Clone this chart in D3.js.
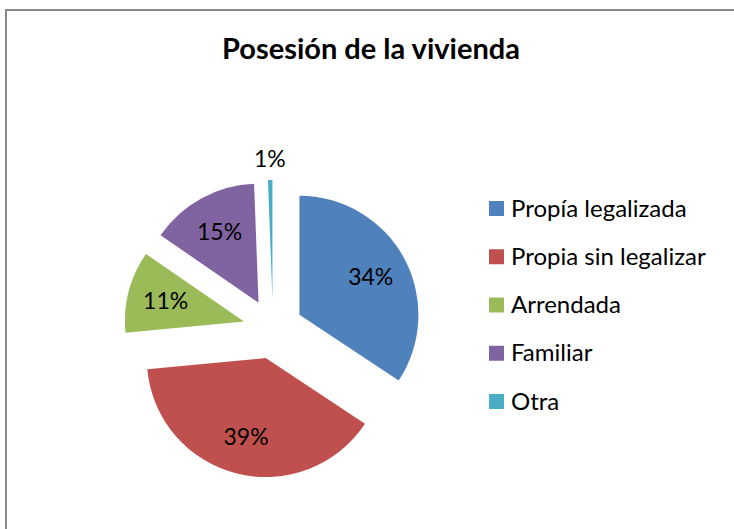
<!DOCTYPE html>
<html>
<head>
<meta charset="utf-8">
<script src="https://cdn.jsdelivr.net/npm/d3@7"></script>
<style>
  body { margin: 0; background: #fff; overflow: hidden; }
  text { font-family: Lato, "Open Sans", sans-serif; fill: #000; }
</style>
</head>
<body>
<div id="vis"></div>
<script>
// data (labels are the rounded shares)
var categories = ["Propía legalizada", "Propia sin legalizar", "Arrendada", "Familiar", "Otra"];
var shares = [34.3, 39.2, 11.1, 14.8, 0.6];
var colors = ["#4F81BD", "#C0504D", "#9BBB59", "#8064A2", "#4BACC6"];

var outer_width = 734;
var outer_height = 529;

var svg = d3.select("#vis")
  .append("svg")
  .attr("width", outer_width)
  .attr("height", outer_height)
  .style("display", "block");

// chart frame (only top and left edges are inside the picture)
svg.append("rect")
  .attr("x", 6)
  .attr("y", 10)
  .attr("width", 800)
  .attr("height", 600)
  .style("fill", "none")
  .style("stroke", "#898989")
  .style("stroke-width", 2);

svg.append("text")
  .attr("x", 371)
  .attr("y", 59)
  .style("text-anchor", "middle")
  .style("font-weight", "bold")
  .style("font-size", "29px")
  .text("Posesión de la vivienda");

var radius = 119;
var explode = 30;
var cx = 273, cy = 329;

var myColor = d3.scaleOrdinal()
  .domain(categories)
  .range(colors);

var pie = d3.pie()
  .sort(null)
  .value(function(d){ return d.value; });

var arc = d3.arc()
  .innerRadius(0)
  .outerRadius(radius);

var table = categories.map(function(c, i){
  return {name: c, value: shares[i]};
});

var slices = pie(table);

var pieG = svg.append("g")
  .attr("transform", "translate(" + cx + "," + cy + ")");

function offset(d, dist){
  var a = (d.startAngle + d.endAngle) / 2;
  return [Math.sin(a) * dist, -Math.cos(a) * dist];
}

var slice = pieG.selectAll(".slice")
  .data(slices)
  .enter()
  .append("g")
  .attr("class", "slice")
  .attr("transform", function(d){
    var o = offset(d, explode);
    return "translate(" + o[0] + "," + o[1] + ")";
  });

slice.append("path")
  .attr("d", arc)
  .style("fill", function(d){ return myColor(d.data.name); });

var pct = d3.format(".0%");

slice.append("text")
  .attr("transform", function(d){
    var dist = d.data.value < 5 ? radius + 21 : radius * 0.68;
    var o = offset(d, dist);
    return "translate(" + o[0] + "," + o[1] + ")";
  })
  .attr("dy", "0.36em")
  .style("text-anchor", "middle")
  .style("font-size", "23px")
  .text(function(d){ return pct(d.data.value / 100); });

// legend
var legendY = d3.scalePoint()
  .domain(categories)
  .range([208, 401]);

var legend = svg.selectAll(".legend")
  .data(categories)
  .enter()
  .append("g")
  .attr("class", "legend")
  .attr("transform", function(d){ return "translate(489," + legendY(d) + ")"; });

legend.append("rect")
  .attr("x", 0)
  .attr("y", -7)
  .attr("width", 15)
  .attr("height", 15)
  .style("fill", function(d){ return myColor(d); });

legend.append("text")
  .attr("x", 22)
  .attr("dy", "0.36em")
  .style("font-size", "24px")
  .text(function(d){ return d; });
</script>
</body>
</html>
